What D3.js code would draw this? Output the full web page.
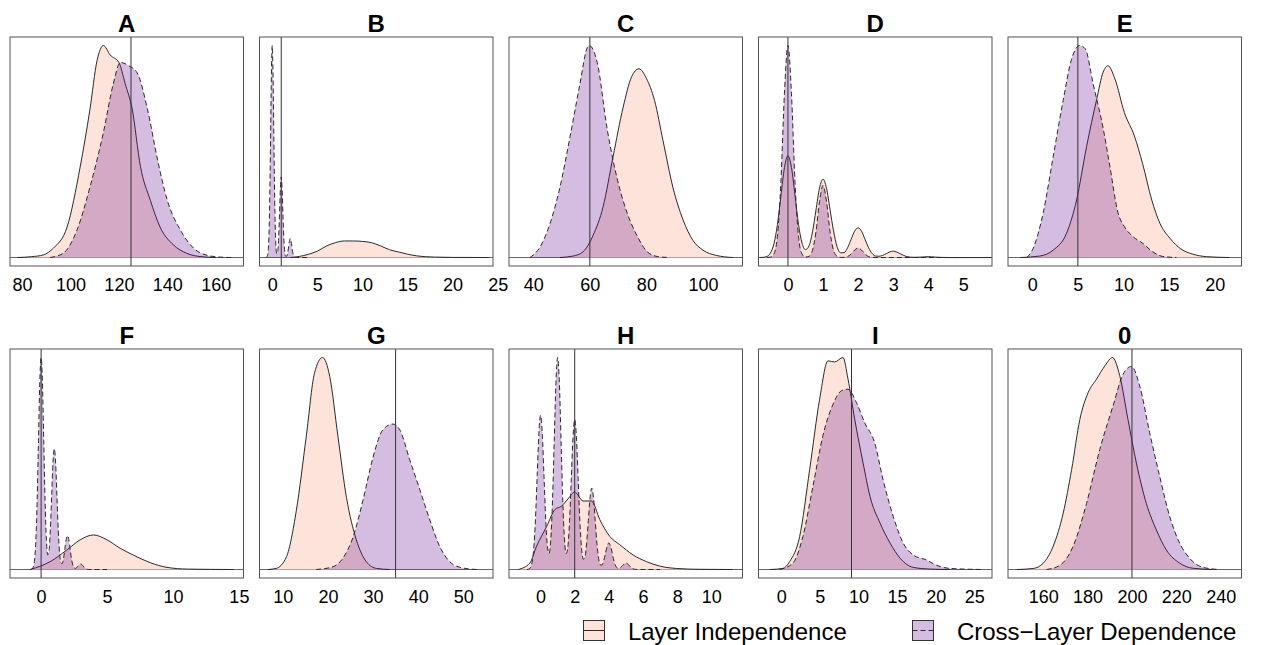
<!DOCTYPE html>
<html lang="en">
<head>
<meta charset="UTF-8">
<title>Layer Independence vs Cross-Layer Dependence</title>
<script src="https://cdn.jsdelivr.net/npm/d3@7"></script>
<style>
  body { margin: 0; background: #fff; }
  svg { display: block; font-family: "Liberation Sans", Arial, sans-serif; }
  .frame { fill: none; stroke: #555; stroke-width: 1; }
  .zero { stroke: #666; stroke-width: 1; }
  .ref { stroke: #333; stroke-width: 1; }
  .indep-fill { fill: #fde3da; }
  .dep-fill { fill: rgba(105, 19, 148, 0.28); }
  .indep-line { fill: none; stroke: #2a2a2a; stroke-width: 1; }
  .dep-line { fill: none; stroke: #2a2a2a; stroke-width: 1; stroke-dasharray: 5,3; }
  .title { font-size: 24px; font-weight: bold; text-anchor: middle; }
  .legend { font-size: 24px; }
</style>
</head>
<body>
<svg id="chart" width="1261" height="645"></svg>
<script>
// panel titles, reference values (vertical lines), x limits and tick labels
const titles = ["A", "B", "C", "D", "E", "F", "G", "H", "I", "0"];
const refValues = [125, 1, 60, 0, 5, 0, 35, 2, 9.1, 200];
const xLimits = [
  [75.0, 171.5], [-1.41, 24.48], [31.4, 114.0], [-0.84, 5.82], [-2.66, 22.94],
  [-2.36, 15.35], [4.82, 56.6], [-1.85, 11.83], [-2.95, 27.3], [144.1, 249.4]
];
const tickSets = [
  [80, 100, 120, 140, 160], [0, 5, 10, 15, 20, 25], [40, 60, 80, 100], [0, 1, 2, 3, 4, 5], [0, 5, 10, 15, 20],
  [0, 5, 10, 15], [10, 20, 30, 40, 50], [0, 2, 4, 6, 8, 10], [0, 5, 10, 15, 20, 25], [160, 180, 200, 220, 240]
];
const legendLabels = ["Layer Independence", "Cross\u2212Layer Dependence"];

// density estimates: [x, density] (relative height)
const indepA = [[78,0],[84,0.004],[88.7,0.012],[93,0.045],[98.6,0.144],[104,0.427],[108,0.696],[111,0.93],[113.6,1.0],[116.4,0.955],[120,0.92],[122.6,0.82],[125.5,0.70],[128.9,0.43],[133,0.27],[137,0.144],[142.5,0.06],[148,0.02],[154,0.004],[160,0]];
const depA = [[91.6,0],[97,0.02],[102.7,0.13],[108,0.33],[113.6,0.59],[117.7,0.82],[120.6,0.92],[124,0.905],[127.6,0.87],[131.8,0.70],[136,0.46],[140,0.27],[145.4,0.13],[150.8,0.045],[156.6,0.01],[162,0.002],[167,0]];

const indepB = [[2,0],[3,0.005],[4,0.015],[5,0.03],[6,0.054],[7,0.07],[8,0.078],[9,0.078],[10,0.076],[11,0.07],[12,0.055],[13,0.037],[14,0.026],[15,0.016],[16,0.008],[17,0.004],[18,0.002],[20,0.0005],[24,0]];
const depB = [[-0.7,0],[-0.6,0.002],[-0.5,0.013],[-0.4,0.063],[-0.3,0.211],[-0.2,0.50],[-0.1,0.841],[0,1.0],[0.1,0.841],[0.2,0.50],[0.3,0.211],[0.4,0.064],[0.5,0.018],[0.6,0.026],[0.7,0.08],[0.8,0.19],[0.9,0.32],[1.0,0.38],[1.1,0.32],[1.2,0.19],[1.3,0.08],[1.4,0.024],[1.5,0.006],[1.6,0.0065],[1.7,0.019],[1.8,0.045],[1.9,0.076],[2.0,0.09],[2.1,0.076],[2.2,0.045],[2.3,0.019],[2.4,0.0057],[2.5,0.0012],[2.7,0],[4,0]];

const indepC = [[49.4,0],[54.1,0.007],[57.6,0.027],[61.2,0.106],[64.7,0.24],[68.2,0.475],[71.8,0.71],[74.7,0.85],[77.4,0.89],[80,0.845],[82.9,0.74],[85.9,0.55],[89.4,0.33],[92.9,0.18],[96.5,0.08],[100,0.035],[104.7,0.01],[110.6,0]];
const depC = [[38.8,0],[42.4,0.05],[45.9,0.16],[49.4,0.33],[53,0.57],[56.5,0.82],[59.1,0.99],[59.8,1.0],[62.6,0.92],[66.2,0.60],[69.7,0.37],[73.2,0.21],[76.8,0.10],[80.3,0.027],[83.8,0.005],[88,0]];

const indepD = [[-0.8,0],[-0.7,0.001],[-0.6,0.005],[-0.5,0.021],[-0.4,0.065],[-0.3,0.156],[-0.2,0.291],[-0.1,0.424],[0,0.48],[0.1,0.425],[0.2,0.295],[0.3,0.157],[0.4,0.069],[0.5,0.037],[0.6,0.055],[0.7,0.121],[0.8,0.224],[0.9,0.327],[1.0,0.37],[1.1,0.327],[1.2,0.226],[1.3,0.126],[1.4,0.052],[1.5,0.022],[1.6,0.023],[1.7,0.046],[1.8,0.085],[1.9,0.124],[2.0,0.14],[2.1,0.124],[2.2,0.085],[2.3,0.046],[2.4,0.019],[2.5,0.007],[2.6,0.006],[2.7,0.01],[2.8,0.018],[2.9,0.026],[3.0,0.03],[3.1,0.026],[3.2,0.018],[3.3,0.01],[3.4,0.004],[3.6,0.001],[3.8,0.002],[4.0,0.004],[4.2,0.002],[4.4,0.0005],[4.6,0],[5.8,0]];
const depD = [[-0.6,0],[-0.5,0.0017],[-0.4,0.017],[-0.3,0.101],[-0.2,0.36],[-0.1,0.775],[0,1.0],[0.1,0.775],[0.2,0.36],[0.3,0.101],[0.4,0.017],[0.5,0.0023],[0.6,0.0058],[0.7,0.034],[0.8,0.122],[0.9,0.264],[1.0,0.34],[1.1,0.264],[1.2,0.122],[1.3,0.034],[1.4,0.0058],[1.5,0.0007],[1.6,0.0008],[1.7,0.0045],[1.8,0.016],[1.9,0.035],[2.0,0.045],[2.1,0.035],[2.2,0.016],[2.3,0.0045],[2.4,0.0008],[2.6,0],[5.0,0]];

const indepE = [[-1.3,0],[0.84,0.007],[2.3,0.035],[3.76,0.114],[4.86,0.27],[5.95,0.52],[7.05,0.74],[7.77,0.87],[8.3,0.90],[9.05,0.84],[10.1,0.68],[11.2,0.57],[12.1,0.44],[13.1,0.27],[14.0,0.16],[15.1,0.09],[16.3,0.04],[17.6,0.016],[19.1,0.004],[21.6,0]];
const depE = [[-0.6,0],[0.1,0.043],[1.2,0.21],[2.3,0.475],[3.4,0.74],[4.3,0.93],[5.2,0.995],[5.8,0.98],[6.7,0.81],[7.8,0.60],[8.5,0.43],[9.4,0.21],[10.1,0.145],[11.05,0.098],[12.1,0.067],[13.2,0.027],[14.3,0.005],[15.8,0]];

const indepF = [[-0.83,0],[0.68,0.037],[1.95,0.092],[2.96,0.14],[3.97,0.163],[4.99,0.14],[6.0,0.10],[7.0,0.068],[8.28,0.032],[9.55,0.01],[11.1,0.002],[14.6,0]];
const depF = [[-0.8,0],[-0.7,0.0022],[-0.6,0.011],[-0.5,0.044],[-0.4,0.135],[-0.3,0.325],[-0.2,0.607],[-0.1,0.883],[0,1.0],[0.1,0.883],[0.2,0.607],[0.3,0.326],[0.4,0.141],[0.5,0.069],[0.6,0.088],[0.7,0.187],[0.8,0.346],[0.9,0.503],[1.0,0.57],[1.1,0.503],[1.2,0.346],[1.3,0.186],[1.4,0.079],[1.5,0.032],[1.6,0.028],[1.7,0.053],[1.8,0.097],[1.9,0.141],[2.0,0.16],[2.1,0.141],[2.2,0.097],[2.3,0.052],[2.4,0.022],[2.5,0.0081],[2.6,0.0053],[2.7,0.0088],[2.8,0.0158],[2.9,0.023],[3.0,0.026],[3.1,0.023],[3.2,0.0158],[3.3,0.0084],[3.4,0.0035],[3.5,0.0011],[3.6,0.0003],[3.8,0],[5,0]];

const indepG = [[6.7,0],[8.5,0.005],[10.8,0.06],[13,0.28],[15.2,0.63],[17,0.925],[18.8,1.0],[20.4,0.91],[22.2,0.63],[24.1,0.34],[26.3,0.14],[28.5,0.037],[30.8,0.005],[33.7,0]];
const depG = [[17.4,0],[21.1,0.013],[23.3,0.053],[25.6,0.155],[27.8,0.33],[30,0.53],[32.2,0.66],[34.4,0.686],[35.9,0.66],[38.1,0.52],[40.4,0.375],[42.6,0.233],[44.8,0.108],[47,0.037],[49.3,0.01],[53,0]];

const indepH = [[-1.31,0],[-0.63,0.03],[-0.23,0.11],[0.35,0.20],[0.84,0.28],[1.23,0.296],[1.61,0.33],[2.0,0.362],[2.49,0.32],[2.98,0.32],[3.47,0.233],[4.05,0.155],[4.64,0.116],[5.42,0.068],[6.2,0.037],[6.98,0.016],[7.95,0.005],[9.3,0.001],[11.25,0]];
const depH = [[-0.8,0],[-0.7,0.0016],[-0.6,0.008],[-0.5,0.032],[-0.4,0.097],[-0.3,0.234],[-0.2,0.437],[-0.1,0.635],[0,0.72],[0.1,0.635],[0.2,0.437],[0.3,0.236],[0.4,0.108],[0.5,0.075],[0.6,0.142],[0.7,0.323],[0.8,0.601],[0.9,0.874],[1.0,0.99],[1.1,0.874],[1.2,0.601],[1.3,0.323],[1.4,0.142],[1.5,0.074],[1.6,0.106],[1.7,0.23],[1.8,0.425],[1.9,0.618],[2.0,0.70],[2.1,0.618],[2.2,0.425],[2.3,0.228],[2.4,0.099],[2.5,0.048],[2.6,0.059],[2.7,0.125],[2.8,0.23],[2.9,0.335],[3.0,0.38],[3.1,0.335],[3.2,0.23],[3.3,0.123],[3.4,0.052],[3.5,0.022],[3.6,0.021],[3.7,0.041],[3.8,0.075],[3.9,0.109],[4.0,0.124],[4.1,0.109],[4.2,0.075],[4.3,0.04],[4.4,0.017],[4.5,0.0067],[4.6,0.0055],[4.7,0.01],[4.8,0.018],[4.9,0.026],[5.0,0.03],[5.1,0.026],[5.2,0.018],[5.3,0.0097],[5.4,0.004],[5.5,0.0013],[5.6,0.0003],[5.8,0],[7,0]];

const indepI = [[-1.5,0],[0.2,0.005],[1.08,0.037],[2.38,0.155],[3.68,0.47],[4.97,0.80],[6.05,0.98],[6.92,0.975],[8.0,0.996],[8.65,0.894],[9.52,0.705],[10.6,0.50],[11.5,0.343],[12.8,0.218],[14.1,0.124],[15.4,0.053],[17.1,0.01],[19.3,0.002],[21.9,0]];
const depI = [[-0.22,0],[1.5,0.03],[2.8,0.155],[4.1,0.39],[5.4,0.63],[6.7,0.776],[7.8,0.84],[8.65,0.847],[9.74,0.784],[10.8,0.69],[12.1,0.595],[13.2,0.42],[14.5,0.25],[15.8,0.124],[17.1,0.068],[18.8,0.045],[20.1,0.02],[21.9,0.005],[26.2,0]];

const indep0 = [[148,0],[155.5,0.005],[160,0.03],[164.5,0.11],[169,0.265],[172.8,0.47],[176.5,0.705],[180.2,0.83],[184,0.894],[187.8,0.957],[191.2,0.996],[194.5,0.91],[198.2,0.705],[202,0.50],[206.5,0.31],[211,0.186],[215.5,0.092],[221.5,0.03],[227.5,0.006],[236.5,0]];
const dep0 = [[161.5,0],[167.5,0.02],[173.5,0.11],[179.5,0.31],[185.5,0.564],[191.5,0.77],[196,0.917],[199.8,0.954],[203.5,0.862],[208,0.642],[212.5,0.438],[217,0.25],[221.5,0.124],[226,0.053],[232,0.01],[239.5,0]];

const indepCurves = [indepA, indepB, indepC, indepD, indepE, indepF, indepG, indepH, indepI, indep0];
const depCurves = [depA, depB, depC, depD, depE, depF, depG, depH, depI, dep0];

const svg = d3.select("#chart");
const boxW = 233.5, boxH = 229;
const colX = [10, 259.5, 509, 758.5, 1008];
const rowY = [37, 349];

titles.forEach((title, i) => {
    const left = colX[i % 5];
    const top = rowY[Math.floor(i / 5)];
    const bottom = top + boxH;

    const x = d3.scaleLinear().domain(xLimits[i]).range([left, left + boxW]);
    const ymax = d3.max(indepCurves[i].concat(depCurves[i]), d => d[1]);
    const y = d3.scaleLinear().domain([-0.04 * ymax, 1.04 * ymax]).range([bottom, top]);

    const g = svg.append("g");
    g.append("clipPath").attr("id", "clip" + i)
        .append("rect").attr("x", left).attr("y", top).attr("width", boxW).attr("height", boxH);
    const inner = g.append("g").attr("clip-path", "url(#clip" + i + ")");

    inner.append("line").attr("class", "zero")
        .attr("x1", left).attr("x2", left + boxW)
        .attr("y1", y(0)).attr("y2", y(0));

    const area = d3.area().x(d => x(d[0])).y0(y(0)).y1(d => y(d[1])).curve(d3.curveMonotoneX);
    const line = d3.line().x(d => x(d[0])).y(d => y(d[1])).curve(d3.curveMonotoneX);

    inner.append("path").attr("class", "indep-fill").attr("d", area(indepCurves[i]));
    inner.append("path").attr("class", "indep-line").attr("d", line(indepCurves[i]));
    inner.append("path").attr("class", "dep-fill").attr("d", area(depCurves[i]));
    inner.append("path").attr("class", "dep-line").attr("d", line(depCurves[i]));

    inner.append("line").attr("class", "ref")
        .attr("x1", x(refValues[i])).attr("x2", x(refValues[i]))
        .attr("y1", top).attr("y2", bottom);

    g.append("rect").attr("class", "frame")
        .attr("x", left).attr("y", top).attr("width", boxW).attr("height", boxH);

    g.append("text").attr("class", "title")
        .attr("x", left + boxW / 2).attr("y", top - 5.5)
        .text(title);

    const axis = g.append("g")
        .attr("transform", "translate(0," + bottom + ")")
        .call(d3.axisBottom(x).tickValues(tickSets[i]).tickSize(0).tickPadding(12).tickFormat(d3.format("d")));
    axis.select(".domain").remove();
    axis.selectAll("text")
        .attr("font-size", 18)
        .attr("font-family", "'Liberation Sans', Arial, sans-serif")
        .attr("fill", "#000");
});

// legend
const legendBoxX = [583.5, 912.5];
const legendClasses = [["indep-fill", "indep-line"], ["dep-fill", "dep-line"]];
legendLabels.forEach((label, k) => {
    const bx = legendBoxX[k];
    if (k === 1) {
        svg.append("rect").attr("x", bx).attr("y", 620.5).attr("width", 21).attr("height", 20).attr("fill", "#fff");
    }
    svg.append("rect").attr("class", legendClasses[k][0])
        .attr("x", bx).attr("y", 620.5).attr("width", 21).attr("height", 20)
        .attr("stroke", "#333").attr("stroke-width", 1);
    svg.append("line").attr("class", legendClasses[k][1])
        .attr("x1", bx).attr("x2", bx + 21).attr("y1", 630.5).attr("y2", 630.5);
    svg.append("text").attr("class", "legend")
        .attr("x", bx + 44.4).attr("y", 639.5)
        .text(label);
});
</script>
</body>
</html>
